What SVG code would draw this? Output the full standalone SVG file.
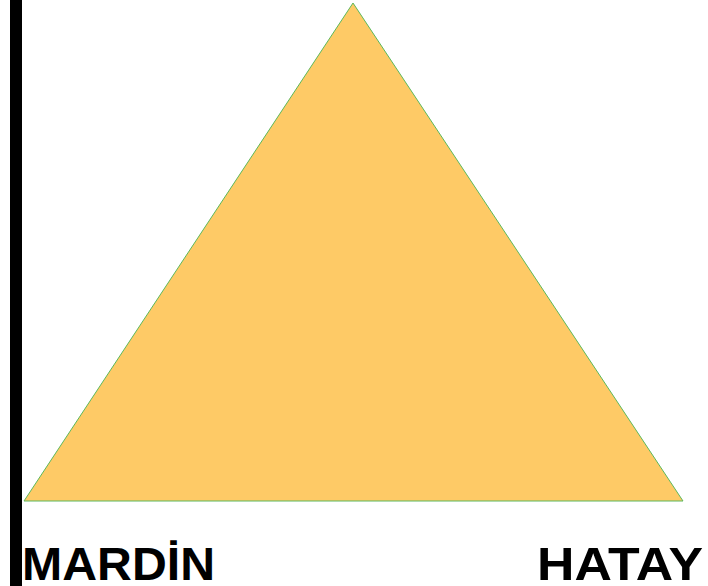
<svg xmlns="http://www.w3.org/2000/svg" width="708" height="586" viewBox="0 0 708 586">
<style>
.lbl{font-family:"Comic Sans MS","Liberation Sans",Arial,sans-serif;font-weight:bold;font-size:47px;fill:#000}
</style>
<rect width="708" height="586" fill="#fff"/>
<rect id="bar" x="10" y="0" width="12" height="586" fill="#000"/>
<g id="triangle">
<polygon points="353,3 24,501 683,501" fill="#FECA66" stroke="#5CB85C" stroke-width="1"/>
</g>
<g id="mardin"><text class="lbl" x="22" y="580" textLength="193" lengthAdjust="spacingAndGlyphs">MARDİN</text></g>
<g id="hatay"><text class="lbl" x="537" y="580" textLength="166" lengthAdjust="spacingAndGlyphs">HATAY</text></g>
</svg>
